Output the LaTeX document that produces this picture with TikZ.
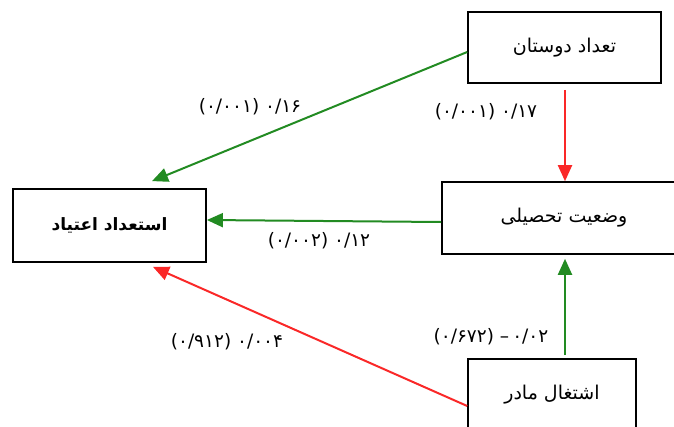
\documentclass[tikz,border=0pt]{standalone}
\usepackage{fontspec}
\TeXXeTstate=1
\newfontfamily\arabicfont[Script=Arabic]{DejaVu Sans}
\usetikzlibrary{arrows.meta,calc}
\definecolor{arrgreen}{RGB}{34,139,34}
\definecolor{arrred}{RGB}{250,40,40}
\begin{document}
\begin{tikzpicture}[x=1pt,y=-1pt,
  box/.style={draw=black,line width=1.6pt,inner sep=0pt,fill=white,
    font=\arabicfont\fontsize{19}{22}\selectfont},
  lab/.style={inner sep=0pt,font=\arabicfont\fontsize{18.5}{22}\selectfont},
  conn/.style={line width=2pt,-{Triangle[length=16pt,width=14pt]}}]
\useasboundingbox (0,0) rectangle (674,426);
\node[box,minimum width=193pt,minimum height=71pt] (dost) at (564.5,47.5) {\beginR تعداد دوستان\endR};
\node[box,minimum width=244pt,minimum height=72pt] (vaz) at (564,218) {\beginR وضعیت تحصیلی\endR};
\node[box,line width=1.8pt,minimum width=193pt,minimum height=73pt] (est) at (109.5,225.5) {\fontsize{17}{20}\selectfont\bfseries\beginR استعداد اعتیاد\endR};
\node[box,minimum width=168pt,minimum height=72pt] (esh) at (552,395) {\beginR اشتغال مادر\endR};
\draw[conn,arrgreen] ($(dost.west)+(0,4.5)$) -- ($(est.north)+(42.5,-7)$);
\draw[conn,arrred] ($(dost.south)+(0.5,6)$) -- ($(dost.south |- vaz.north)+(0.5,0)$);
\draw[conn,arrgreen] ($(vaz.west)+(0,4)$) -- ($(est.east)+(0,-5.5)$);
\draw[conn,arrred] ($(esh.west)+(0,11)$) -- ($(est.south)+(43.5,4)$);
\draw[conn,arrgreen] ($(dost.south |- esh.north)+(0.5,-3)$) -- ($(dost.south |- vaz.south)+(0.5,4)$);
\node[lab] (l1) at (250,107) {\beginR ۰/۱۶ (۰/۰۰۱)\endR};
\node[lab] (l2) at (486,112) {\beginR ۰/۱۷ (۰/۰۰۱)\endR};
\node[lab] (l3) at (319,241) {\beginR ۰/۱۲ (۰/۰۰۲)\endR};
\node[lab] (l4) at (227,342) {\beginR ۰/۰۰۴ (۰/۹۱۲)\endR};
\node[lab] (l5) at (491,337) {\beginR ۰/۰۲\,– (۰/۶۷۲)\endR};
\end{tikzpicture}
\end{document}
